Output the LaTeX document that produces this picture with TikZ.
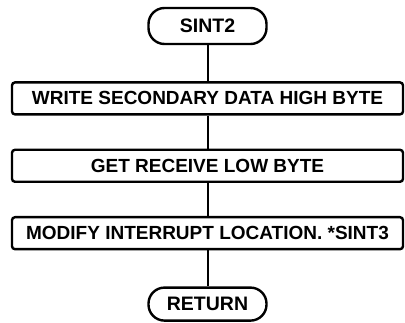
\documentclass[tikz,border=0pt]{standalone}
\usepackage{fontspec}
\setmainfont{Liberation Sans}
\usetikzlibrary{positioning}
\tikzset{
  termbox/.style={
    draw=black,
    line width=2.4pt,
    rounded corners=16pt,
    fill=white,
    minimum height=36pt,
    minimum width=118pt,
    align=center,
    font=\fontsize{19.5}{22}\selectfont\bfseries
  },
  stepbox/.style={
    draw=black,
    line width=2.4pt,
    rounded corners=3pt,
    fill=white,
    minimum height=32pt,
    minimum width=391pt,
    align=center,
    font=\fontsize{19}{22}\selectfont\bfseries
  },
  flowline/.style={line width=2pt,draw=black}
}
\begin{document}
\begin{tikzpicture}[x=1pt,y=1pt,node distance=33pt]
\useasboundingbox (0,0) rectangle (405,-323);
\node[termbox] (start) at (207.5,-26) {SINT2};
\node[stepbox,below=36pt of start] (write) {WRITE SECONDARY DATA HIGH BYTE};
\node[stepbox,below=of write] (get) {GET RECEIVE LOW BYTE};
\node[stepbox,below=of get] (modify) {MODIFY INTERRUPT LOCATION. *SINT3};
\node[termbox,below=36pt of modify,minimum height=33pt] (ret) {RETURN};
\draw[flowline] (start) -- (write);
\draw[flowline] (write) -- (get);
\draw[flowline] (get) -- (modify);
\draw[flowline] (modify) -- (ret);
\end{tikzpicture}
\end{document}
